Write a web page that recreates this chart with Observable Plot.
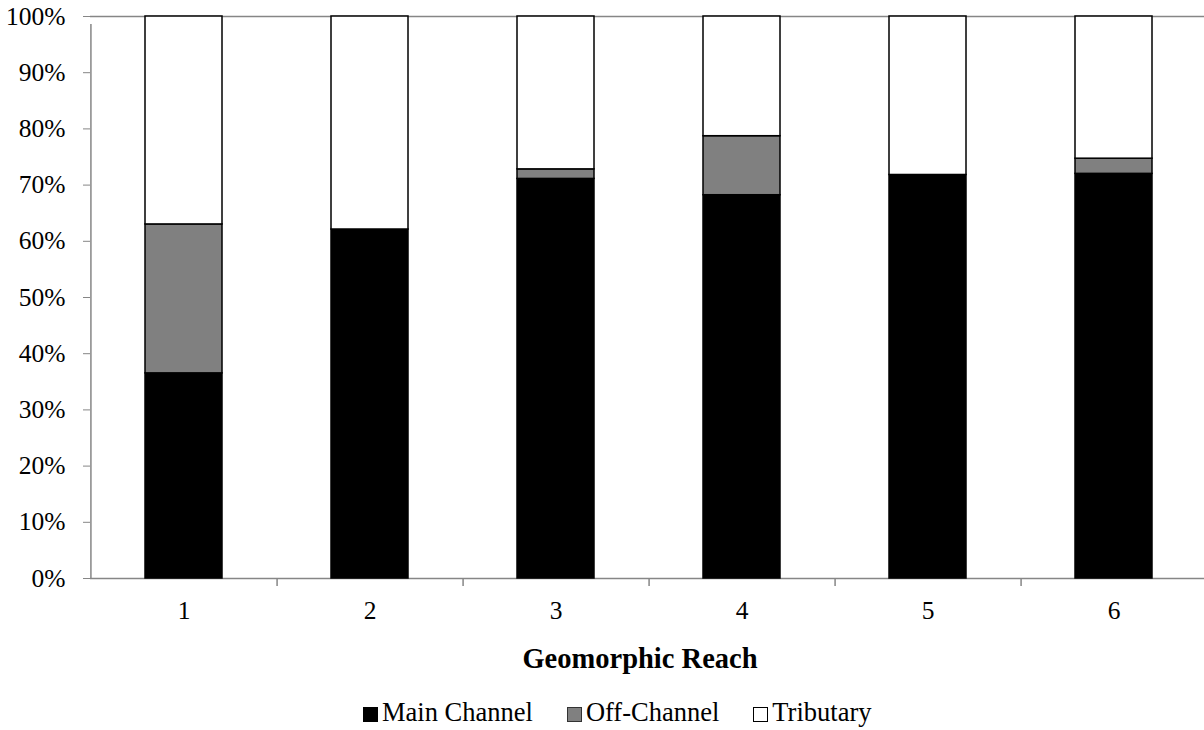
<!DOCTYPE html>
<html><head><meta charset="utf-8">
<script src="https://cdn.jsdelivr.net/npm/d3@7"></script>
<script src="https://cdn.jsdelivr.net/npm/@observablehq/plot@0.6"></script>
<style>
body{margin:0;background:#fff;font-family:"Liberation Serif","Times New Roman",serif;width:1204px;height:730px;position:relative;overflow:hidden;}
#chart{position:absolute;left:0;top:0;}
#xtitle{position:absolute;left:90px;width:1100px;top:643px;text-align:center;font-weight:bold;font-size:28.5px;line-height:32px;color:#000;}
#legend{position:absolute;left:363px;top:697px;display:flex;font-size:26.5px;line-height:30px;color:#000;white-space:nowrap;}
.item{display:flex;align-items:center;margin-right:34px;}
.sw{width:15px;height:15px;border:1.5px solid #000;box-sizing:border-box;margin-right:4px;position:relative;top:2px;}
</style></head><body>
<div id="chart"></div>
<div id="xtitle">Geomorphic Reach</div>
<div id="legend"></div>
<script>
const reaches = ["1","2","3","4","5","6"];
const mainChannel = [36.5, 62.1, 71.1, 68.2, 71.8, 72.0];
const offChannel = [26.5, 0, 1.7, 10.5, 0, 2.7];
const tributary = [37.0, 37.9, 27.2, 21.3, 28.2, 25.3];
const seriesNames = ["Main Channel","Off-Channel","Tributary"];
const seriesColors = ["#000000","#808080","#ffffff"];
const yTicks = [0,10,20,30,40,50,60,70,80,90,100];

const seriesValues = [mainChannel, offChannel, tributary];
const rows = [];
reaches.forEach((r, i) => {
  seriesNames.forEach((s, j) => {
    const v = seriesValues[j][i];
    if (v > 0) rows.push({reach: r, series: s, value: v});
  });
});

const W = 1204, H = 630, mL = 90, mR = 0, mT = 16, mB = 52;
const xRight = 1207;
const step = (xRight - mL) / reaches.length;

const chart = Plot.plot({
  width: W, height: H,
  marginLeft: mL, marginRight: mR, marginTop: mT, marginBottom: mB,
  style: {fontFamily: '"Liberation Serif","Times New Roman",serif', fontSize: "25.5px", color: "#000", background: "#fff"},
  x: {domain: reaches, range: [mL, xRight], paddingInner: 0.587, paddingOuter: 0.2935, label: null},
  y: {domain: [0, 100], label: null},
  color: {domain: seriesNames, range: seriesColors},
  marks: [
    Plot.axisY({ticks: yTicks, tickSize: 7, tickPadding: 18, tickFormat: d => d + "%", stroke: "#868686", fill: "#000", label: null}),
    Plot.axisX({tickSize: 0, tickPadding: 22, fill: "#000", label: null}),
    Plot.ruleY([0, 100], {stroke: "#868686", strokeWidth: 1.5}),
    Plot.ruleX([reaches[0]], {x: d => d, dx: -step / 2, y1: 0, y2: 100, insetBottom: -8, stroke: "#868686", strokeWidth: 1.5}),
    Plot.ruleX(reaches.slice(0, -1), {x: d => d, dx: step / 2, y1: 0, y2: 0, insetBottom: -8, stroke: "#868686", strokeWidth: 1.5}),
    Plot.barY(rows, {x: "reach", y: "value", fill: "series", stroke: "#000", strokeWidth: 1.5})
  ]
});
document.getElementById("chart").appendChild(chart);

const legend = document.getElementById("legend");
seriesNames.forEach((s, j) => {
  const it = document.createElement("div");
  it.className = "item";
  const sw = document.createElement("span");
  sw.className = "sw";
  sw.style.background = seriesColors[j];
  if (j === 1) sw.style.borderColor = "#333";
  const t = document.createElement("span");
  t.textContent = s;
  it.appendChild(sw); it.appendChild(t);
  legend.appendChild(it);
});
</script>
</body></html>
